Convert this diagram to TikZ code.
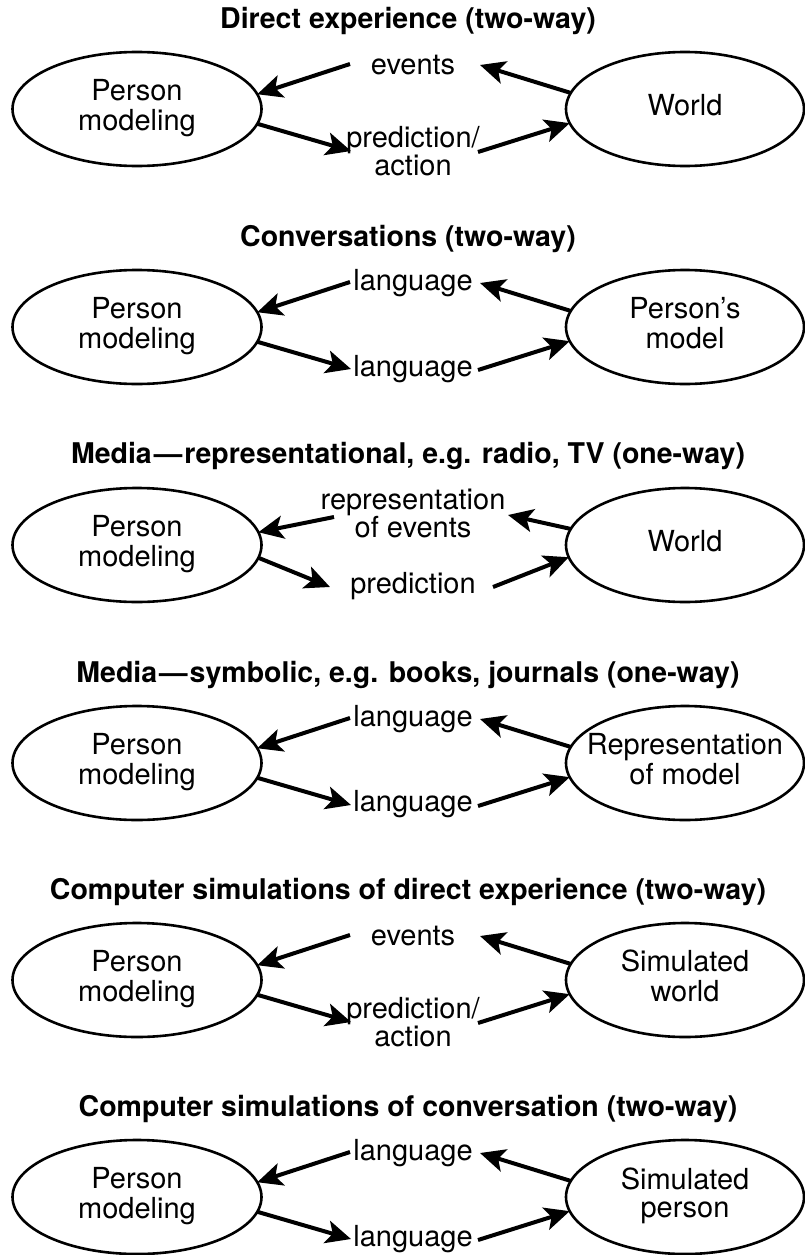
\documentclass[tikz,border=0pt]{standalone}
\usepackage{fontspec}
\setmainfont{TeX Gyre Heros}
\usetikzlibrary{arrows.meta,shapes.geometric}
\tikzset{
  ellL/.style={draw, ellipse, line width=2.6pt, minimum width=249pt, minimum height=114pt,
               inner sep=0pt, outer sep=0pt, font=\fontsize{29}{28.5}\selectfont},
  ellR/.style={ellL, minimum width=238pt},
  txt/.style={font=\fontsize{29}{28}\selectfont, align=center, inner sep=0pt},
  ttl/.style={font=\fontsize{28.5}{30}\selectfont\bfseries, inner sep=0pt},
  arr/.style={line width=4pt, -{Stealth[length=25pt,width=23pt,inset=6pt]}},
}
\newcommand{\inell}[1]{\makebox[0pt][c]{\begin{tabular}{@{}c@{}}#1\end{tabular}}}
% standard panel: id, Y, title, right text, top label, bottom label, bottom label y
\newcommand{\stdpanel}[7]{%
  \begin{scope}[shift={(0,#2)}]
    \node[ttl] (T#1) at (408,-88) {#3};
    \node[ellL] (L#1) at (137,0) {\inell{Person\\modeling}};
    \node[ellR] (R#1) at (685,0) {\inell{#4}};
    \node[txt] (A#1) at (413,-44) {#5};
    \node[txt] (B#1) at (413,#7) {#6};
    \coordinate (a#1) at (350,-45);
    \coordinate (b#1) at (480,-44);
    \coordinate (c#1) at (351,42);
    \coordinate (d#1) at (478,43);
    \draw[arr] (a#1) -- (L#1.7);
    \draw[arr] (R#1.172) -- (b#1);
    \draw[arr] (L#1.-7) -- (c#1);
    \draw[arr] (d#1) -- (R#1.187);
  \end{scope}}
\begin{document}
\begin{tikzpicture}[x=1pt,y=-1pt]
  \useasboundingbox (0,0) rectangle (805,1255);
  \fill[white] (0,0) rectangle (805,1255);

  \stdpanel{1}{109}{Direct experience (two-way)}{World}{events}{prediction/\\action}{42}
  \stdpanel{2}{327}{Conversations (two-way)}{Person’s\\model}{language}{language}{42}

  \begin{scope}[shift={(0,545)}]
    \node[ttl] (T3) at (408,-89) {Media\kern2pt—\kern2pt representational, e.g. radio, TV (one-way)};
    \node[ellL] (L3) at (137,0) {\inell{Person\\modeling}};
    \node[ellR] (R3) at (685,0) {\inell{World}};
    \node[txt] (A3) at (413,-32) {representation\\of events};
    \node[txt] (B3) at (413,41) {prediction};
    \coordinate (a3) at (334,-28);
    \coordinate (b3) at (508,-30);
    \coordinate (c3) at (330,42);
    \coordinate (d3) at (493,42);
    \draw[arr] (a3) -- (L3.6);
    \draw[arr] (R3.172) -- (b3);
    \draw[arr] (L3.-6) -- (c3);
    \draw[arr] (d3) -- (R3.186);
  \end{scope}

  \stdpanel{4}{763}{Media\kern2pt—\kern2pt symbolic, e.g. books, journals (one-way)}{Representation\\of model}{language}{language}{41}
  \stdpanel{5}{980}{Computer simulations of direct experience (two-way)}{Simulated\\world}{events}{prediction/\\action}{42}
  \stdpanel{6}{1197}{Computer simulations of conversation (two-way)}{Simulated\\person}{language}{language}{42}
\end{tikzpicture}
\end{document}
